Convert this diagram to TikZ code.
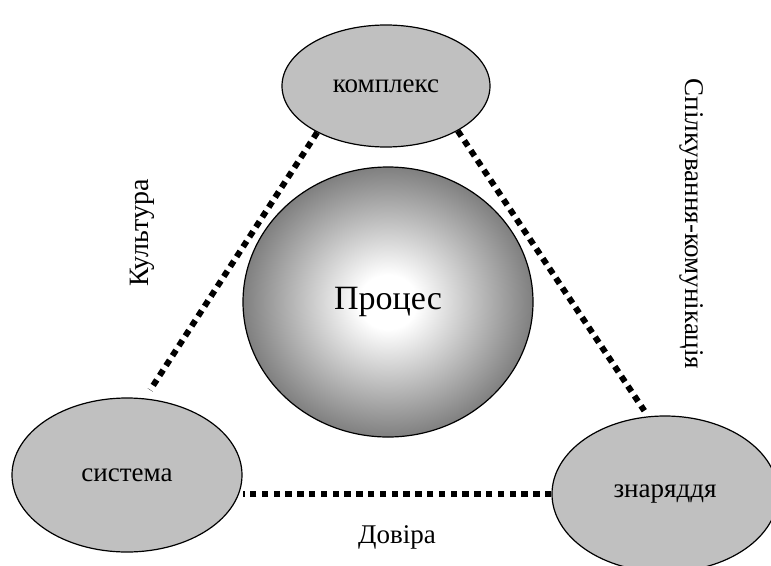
\documentclass[tikz,border=0pt]{standalone}
\usepackage{fontspec}
\setmainfont{Liberation Serif}
\usetikzlibrary{shapes.geometric}
\definecolor{ovalgray}{RGB}{192,192,192}
\pgfdeclareradialshading{procshade}{\pgfpoint{0bp}{0bp}}{color(0bp)=(white); color(5bp)=(white); color(25bp)=(black!50); color(50bp)=(black!50)}

\begin{document}
\begin{tikzpicture}[x=1pt,y=-1pt,
  oval/.style={ellipse,draw,line width=1.2pt,fill=ovalgray,inner sep=0pt,font=\fontsize{27}{30}\selectfont},
  dotline/.style={line width=6pt,dash pattern=on 6.5pt off 5.3pt},
  lbl/.style={inner sep=0pt,font=\fontsize{27}{30}\selectfont}]
\clip (0,0) rectangle (771,565);
\node[oval,minimum width=208,minimum height=122] (kompleks) at (386,86) {комплекс};
\node[oval,minimum width=230,minimum height=154] (systema) at (127,475) {система};
\node[oval,minimum width=226,minimum height=156] (znar) at (665,494) {знаряддя};
\node[ellipse,draw,line width=1.2pt,shading=procshade,minimum width=290,minimum height=270,font=\fontsize{34}{38}\selectfont] (proc) at (388,302) {Процес};
\draw[dotline] (kompleks.214) -- ([yshift=9pt]systema.73);
\draw[dotline] (kompleks.-32) -- ([yshift=6pt]znar.105);
\draw[dotline] (znar.west) -- (znar.west -| systema.east);
\node[lbl,rotate=90,font=\fontsize{28}{30}\selectfont] (kult) at (142,233) {Культура};
\node[lbl,rotate=-90] (spilk) at (692,224) {Спілкування-комунікація};
\node[lbl] (dovira) at (397,537) {Довіра};
\end{tikzpicture}
\end{document}
